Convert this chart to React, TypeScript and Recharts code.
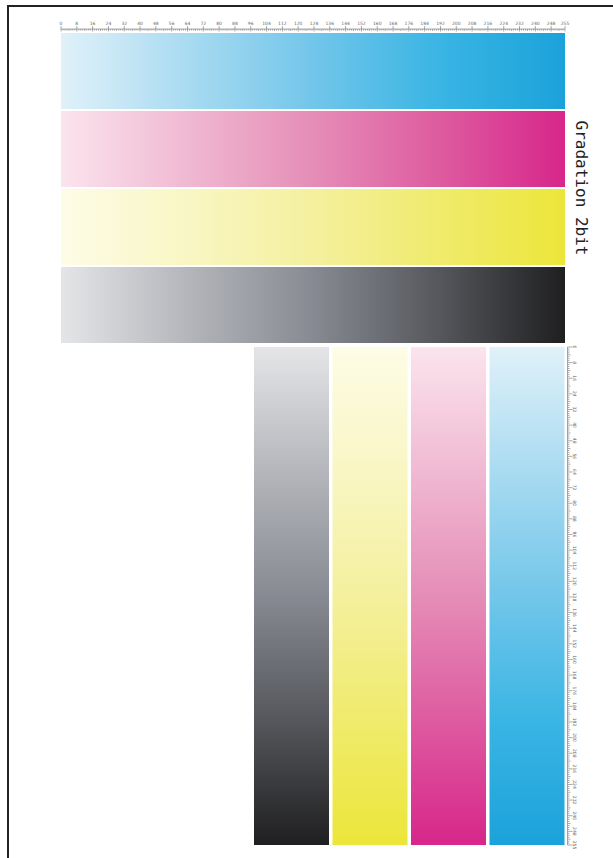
import React from 'react';
import { BarChart, Bar, XAxis, YAxis, Cell } from 'recharts';

// ---- data ----
const rowCategories = ['Cyan', 'Magenta', 'Yellow', 'Black'];
const rowValues = [255, 255, 255, 255];
const colCategories = ['Black', 'Yellow', 'Magenta', 'Cyan'];
const colValues = [255, 255, 255, 255];
const rulerLabels = [0, 8, 16, 24, 32, 40, 48, 56, 64, 72, 80, 88, 96, 104, 112, 120, 128, 136, 144, 152, 160, 168, 176, 184, 192, 200, 208, 216, 224, 232, 240, 248, 255];
const rulerMinor = Array.from({ length: 256 }, (_, i) => i);
const title = 'Gradation 2bit';

// gradient stops per ink: [light, quarter, mid, three-quarter, full]
const inkStops: Record<string, string[]> = {
  Cyan: ['#e0f1f9', '#a9dbf1', '#72c6ea', '#3ab5e4', '#1ba2da'],
  Magenta: ['#fbe4ed', '#f0b9d2', '#e58db7', '#de5ba0', '#d7268a'],
  Yellow: ['#fdfce6', '#f9f6c4', '#f4f09e', '#f0eb6c', '#ece63a'],
  Black: ['#e4e5e7', '#b4b6bb', '#878a92', '#55575c', '#1f1f20'],
};

const rowData = rowCategories.map((c, i) => ({ name: c, value: rowValues[i] }));
const colData = colCategories.map((c, i) => ({ name: c, value: colValues[i] }));

const labelSet = new Set(rulerLabels);
const H_PLOT_W = 504;
const V_PLOT_H = 498;

const TopTick = (props: any) => {
  const { x, y, payload } = props;
  const v = payload.value;
  const major = labelSet.has(v);
  const mid = v % 4 === 0;
  const step = H_PLOT_W / 255;
  const base = y - 3;
  return (
    <g>
      {v < 255 && <line x1={x} x2={x + step} y1={base} y2={base} stroke="#555" strokeWidth={0.5} />}
      <line x1={x} x2={x} y1={major ? base - 3 : base} y2={base + (major ? 2.5 : mid ? 2 : 1.5)} stroke="#555" strokeWidth={0.5} />
      {major && (
        <text x={x} y={base - 4.5} textAnchor="middle" fontSize={4.5} fill="#666" fontFamily="DejaVu Sans">
          {v}
        </text>
      )}
    </g>
  );
};

const RightTick = (props: any) => {
  const { x, y, payload } = props;
  const v = payload.value;
  const major = labelSet.has(v);
  const mid = v % 4 === 0;
  const step = V_PLOT_H / 255;
  const base = x + 1.5;
  return (
    <g>
      {v < 255 && <line x1={base} x2={base} y1={y} y2={y + step} stroke="#555" strokeWidth={0.5} />}
      <line x1={base} x2={base + (major ? 5 : mid ? 3 : 2)} y1={y} y2={y} stroke="#555" strokeWidth={0.5} />
      {major && (
        <text
          x={base + 7}
          y={y}
          textAnchor="middle"
          fontSize={4.5}
          fill="#666"
          fontFamily="DejaVu Sans"
          transform={`rotate(90 ${base + 7} ${y})`}
          dominantBaseline="central"
        >
          {v}
        </text>
      )}
    </g>
  );
};

const gradDefs = (prefix: string, vertical: boolean) => (
  <defs>
    {Object.keys(inkStops).map((k) => (
      <linearGradient key={k} id={`${prefix}-${k}`} x1="0" y1="0" x2={vertical ? '0' : '1'} y2={vertical ? '1' : '0'}>
        {inkStops[k].map((c, i) => (
          <stop key={i} offset={`${i * 25}%`} stopColor={c} />
        ))}
      </linearGradient>
    ))}
  </defs>
);

export default function App() {
  return (
    <div style={{ position: 'absolute', left: 0, top: 0, width: 613, height: 858, background: '#fff', overflow: 'hidden' }}>
      {/* page frame */}
      <div style={{ position: 'absolute', left: 7, top: 5, width: 620, height: 870, borderLeft: '2px solid #222', borderTop: '2px solid #222' }} />

      <div style={{ position: 'absolute', left: 0, top: 0 }}>
        <BarChart
          width={613}
          height={350}
          data={rowData}
          layout="vertical"
          margin={{ top: 20, right: 48, bottom: 6, left: 61 }}
          barSize={76}
        >
          {gradDefs('h', false)}
          <XAxis
            type="number"
            dataKey="value"
            orientation="top"
            domain={[0, 255]}
            ticks={rulerMinor}
            interval={0}
            tickSize={0}
            tickMargin={0}
            axisLine={false}
            tickLine={false}
            height={12}
            tick={<TopTick />}
          />
          <YAxis type="category" dataKey="name" hide />
          <Bar dataKey="value" isAnimationActive={false}>
            {rowData.map((d) => (
              <Cell key={d.name} fill={`url(#h-${d.name})`} />
            ))}
          </Bar>
        </BarChart>
      </div>

      <div style={{ position: 'absolute', left: 0, top: 0 }}>
        <BarChart
          width={613}
          height={858}
          data={colData}
          margin={{ top: 347, right: 27, bottom: 13, left: 252 }}
          barSize={75}
        >
          {gradDefs('v', true)}
          <XAxis type="category" dataKey="name" hide />
          <YAxis
            type="number"
            orientation="right"
            domain={[0, 255]}
            reversed
            ticks={rulerMinor}
            interval={0}
            tickSize={0}
            tickMargin={0}
            axisLine={false}
            tickLine={false}
            width={20}
            tick={<RightTick />}
          />
          <Bar dataKey="value" isAnimationActive={false}>
            {colData.map((d) => (
              <Cell key={d.name} fill={`url(#v-${d.name})`} />
            ))}
          </Bar>
        </BarChart>
      </div>

      <div
        style={{
          position: 'absolute',
          left: 581,
          top: 188,
          transform: 'translate(-50%, -50%) rotate(90deg)',
          whiteSpace: 'nowrap',
          fontFamily: '"DejaVu Sans Mono", monospace',
          fontSize: 16,
          color: '#222',
        }}
      >
        {title}
      </div>
    </div>
  );
}
